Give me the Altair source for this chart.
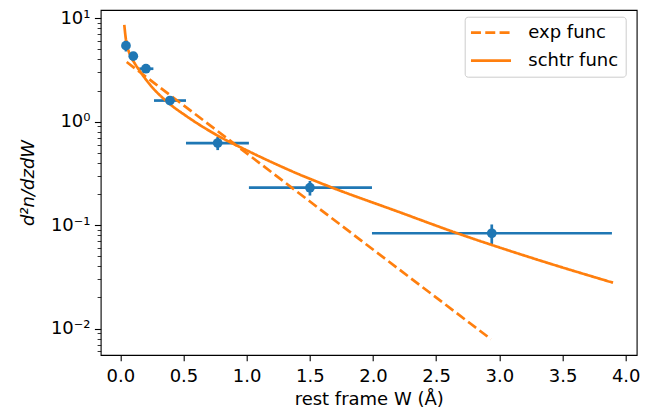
import altair as alt
import pandas as pd

# ---- data ----
pt_x = [0.045, 0.103, 0.203, 0.393, 0.771, 1.501, 2.940]
pt_y = [5.43, 4.30, 3.25, 1.60, 0.621, 0.230, 0.0834]
pt_yerr = [0.66, 0.40, 0.25, 0.13, 0.09, 0.037, 0.018]
pt_xlo = [0.033, 0.075, 0.150, 0.267, 0.520, 1.018, 1.992]
pt_xhi = [0.057, 0.130, 0.262, 0.520, 1.018, 1.992, 3.891]

exp_x = [0.051, 0.103, 0.203, 0.393, 0.771, 1.501, 2.934]
exp_y = [3.77, 3.37, 2.72, 1.81, 0.809, 0.169, 0.00789]

sch_x = [0.0317, 0.0451, 0.0609, 0.0847, 0.1163, 0.1559, 0.2350, 0.3672, 0.5255,
         0.7630, 1.0265, 1.4222, 1.6359, 2.2137, 2.6649, 3.2822, 3.8995]
sch_y = [8.63, 6.16, 5.05, 4.23, 3.63, 3.07, 2.28, 1.569, 1.127,
         0.742, 0.510, 0.307, 0.2408, 0.1328, 0.0836, 0.0471, 0.02775]

x_ticks = [0.0, 0.5, 1.0, 1.5, 2.0, 2.5, 3.0, 3.5, 4.0]
y_major = [0.01, 0.1, 1, 10]
y_minor = [0.006, 0.007, 0.008, 0.009,
           0.02, 0.03, 0.04, 0.05, 0.06, 0.07, 0.08, 0.09,
           0.2, 0.3, 0.4, 0.5, 0.6, 0.7, 0.8, 0.9,
           2, 3, 4, 5, 6, 7, 8, 9]
series_names = ["exp func", "schtr func"]

C0 = "#1f77b4"
C1 = "#ff7f0e"
FONT = "DejaVu Sans"
W, H = 536, 345

pts = pd.DataFrame({
    "x": pt_x, "y": pt_y,
    "xlo": pt_xlo, "xhi": pt_xhi,
    "ylo": [a - b for a, b in zip(pt_y, pt_yerr)],
    "yhi": [a + b for a, b in zip(pt_y, pt_yerr)],
})
lines = pd.concat([
    pd.DataFrame({"x": exp_x, "y": exp_y, "curve": series_names[0]}),
    pd.DataFrame({"x": sch_x, "y": sch_y, "curve": series_names[1]}),
])

xscale = alt.Scale(domain=[-0.155, 4.087], nice=False, zero=False)
yscale = alt.Scale(type="log", domain=[0.005548, 12.01], nice=False)

major_test = "indexof([0.01, 0.1, 1, 10], datum.value) >= 0"
label_expr = ("datum.value == 10 ? '10\u00b9' : datum.value == 1 ? '10\u2070' : "
              "datum.value == 0.1 ? '10\u207b\u00b9' : datum.value == 0.01 ? '10\u207b\u00b2' : ''")

xaxis = alt.Axis(values=x_ticks, format=".1f", tickSize=5.7, tickWidth=1.1, tickColor="black",
                 labelFontSize=18, labelColor="black", labelFont=FONT, labelPadding=20.9,
                 labelBaseline="alphabetic", labelFlush=False, labelOverlap=False,
                 domain=False, grid=False,
                 title="rest frame W (\u00c5)", titleFontSize=18, titleFont=FONT,
                 titleFontWeight="normal", titleColor="black", titleBaseline="alphabetic",
                 titleY=50, titleX=W / 2, titleAlign="center")

yaxis = alt.Axis(values=y_major + y_minor, labelExpr=label_expr,
                 tickSize={"condition": {"test": major_test, "value": 6.3}, "value": 3.6},
                 tickWidth={"condition": {"test": major_test, "value": 1.1}, "value": 0.8},
                 tickColor="black", labelFontSize=18, labelColor="black", labelFont=FONT,
                 labelPadding=4.4, labelFlush=False, labelOverlap=False,
                 domain=False, grid=False,
                 title="d\u00b2n/dzdW", titleFontSize=18, titleFont=FONT,
                 titleFontStyle="italic", titleFontWeight="normal", titleColor="black",
                 titleAngle=270, titleBaseline="alphabetic", titleAlign="center",
                 titleX=-67.5, titleY=H / 2)

base = alt.Chart(pts)

hbars = base.mark_rule(color=C0, strokeWidth=2.7).encode(
    x=alt.X("xlo:Q", scale=xscale, axis=xaxis),
    x2="xhi:Q",
    y=alt.Y("y:Q", scale=yscale, axis=yaxis),
)
vbars = base.mark_rule(color=C0, strokeWidth=2.7).encode(
    x=alt.X("x:Q", scale=xscale),
    y=alt.Y("ylo:Q", scale=yscale),
    y2="yhi:Q",
)

legend = alt.Legend(title=None, orient="none", legendX=364, legendY=6.7,
                    symbolType="M-2.67,0H2.67", symbolSize=225, symbolStrokeWidth=2.7,
                    labelFontSize=18, labelFont=FONT, labelColor="black", labelLimit=300,
                    padding=7, fillColor="white", strokeColor="#cccccc", cornerRadius=3,
                    rowPadding=10, symbolOffset=10.3, labelOffset=28.3)

curves = alt.Chart(lines).mark_line(strokeWidth=2.7, interpolate="monotone").encode(
    x=alt.X("x:Q", scale=xscale),
    y=alt.Y("y:Q", scale=yscale),
    color=alt.Color("curve:N", scale=alt.Scale(domain=series_names, range=[C1, C1]), legend=legend),
    strokeDash=alt.StrokeDash("curve:N", scale=alt.Scale(domain=series_names, range=[[10, 4.3], [1, 0]]),
                              legend=legend),
)

dots = base.mark_circle(color=C0, size=95, opacity=1).encode(
    x=alt.X("x:Q", scale=xscale),
    y=alt.Y("y:Q", scale=yscale),
)

chart = alt.layer(hbars, vbars, curves, dots).properties(
    width=W, height=H,
    autosize=alt.AutoSizeParams(type="none"),
    padding={"left": 92.7, "top": 2, "right": 25, "bottom": 53},
).configure(font=FONT).configure_view(stroke="black", strokeWidth=1.1)

chart.save("out.html", embed_options={"renderer": "svg", "actions": False})
